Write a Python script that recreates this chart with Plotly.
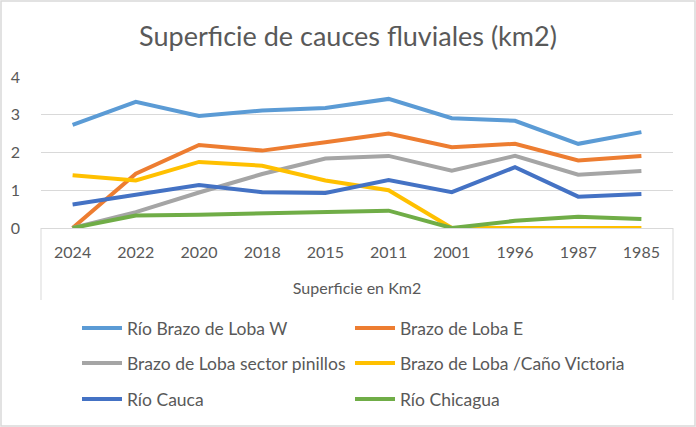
import plotly.graph_objects as go

# categorias del eje x (años)
years = ["2024", "2022", "2020", "2018", "2015", "2011", "2001", "1996", "1987", "1985"]

# superficie en km2 por cauce
brazo_loba_w = [2.73, 3.34, 2.97, 3.11, 3.18, 3.42, 2.91, 2.84, 2.23, 2.54]
brazo_loba_e = [0.00, 1.44, 2.20, 2.05, 2.27, 2.50, 2.14, 2.23, 1.79, 1.91]
sector_pinillos = [0.00, 0.42, 0.94, 1.43, 1.84, 1.91, 1.52, 1.91, 1.41, 1.51]
cano_victoria = [1.40, 1.26, 1.75, 1.65, 1.26, 1.00, 0.00, 0.00, 0.00, 0.00]
rio_cauca = [0.62, 0.87, 1.14, 0.95, 0.93, 1.27, 0.95, 1.61, 0.83, 0.90]
rio_chicagua = [0.00, 0.33, 0.35, 0.38, 0.41, 0.46, 0.00, 0.19, 0.30, 0.24]

series = [
    ("Río Brazo de Loba W", brazo_loba_w, "#5B9BD5"),
    ("Brazo de Loba E", brazo_loba_e, "#ED7D31"),
    ("Brazo de Loba sector pinillos", sector_pinillos, "#A5A5A5"),
    ("Brazo de Loba /Caño Victoria", cano_victoria, "#FFC000"),
    ("Río Cauca", rio_cauca, "#4472C4"),
    ("Río Chicagua", rio_chicagua, "#70AD47"),
]

FONT = "Lato"
GRAY = "#595959"
GRID = "#D9D9D9"

W, H = 696, 427
L, R, T, B = 41, 23, 77, 199
ph = H - T - B

# una leyenda por entrada: dos columnas, tres filas
leg_names = ["legend", "legend2", "legend3", "legend4", "legend5", "legend6"]
col_x = [77, 350]
row_y = [328, 363, 399]

fig = go.Figure()
for i, (name, vals, color) in enumerate(series):
    fig.add_trace(go.Scatter(x=years, y=vals, name=name, mode="lines",
                             line=dict(color=color, width=4),
                             legend=leg_names[i], showlegend=True))


def py(p):
    # pixel vertical -> paper
    return (H - B - p) / ph


def px(p):
    return (p - L) / (W - L - R)


legends = {}
for i, ln in enumerate(leg_names):
    legends[ln] = dict(orientation="h", xref="container", yref="container",
                       x=col_x[i % 2] / W, y=1 - row_y[i // 2] / H,
                       xanchor="left", yanchor="middle",
                       font=dict(family=FONT, size=17.5, color=GRAY),
                       bgcolor="rgba(0,0,0,0)", itemwidth=40)

fig.update_layout(
    width=W, height=H,
    showlegend=True,
    margin=dict(l=L, r=R, t=T, b=B, autoexpand=False),
    paper_bgcolor="white", plot_bgcolor="white",
    font=dict(family=FONT, color=GRAY),
    title=dict(text="Superficie de cauces fluviales (km2)", x=0.5, xanchor="center",
               y=1 - 37 / H, yref="container", yanchor="middle",
               font=dict(family=FONT, size=27, color=GRAY)),
    **legends,
    xaxis=dict(type="category", range=[-0.5, 9.5], showgrid=False,
               showline=True, linecolor=GRID, linewidth=1, ticks="",
               tickfont=dict(family=FONT, size=16, color=GRAY),
               ticklabelstandoff=10,
               title=dict(text="Superficie en Km2", standoff=22,
                          font=dict(family=FONT, size=16, color=GRAY))),
    yaxis=dict(range=[0, 4], dtick=1, showgrid=True, gridcolor=GRID, gridwidth=1,
               zeroline=False, showline=False, ticks="",
               tickfont=dict(family=FONT, size=16, color=GRAY),
               ticklabelstandoff=20),
    shapes=[
        dict(type="line", xref="paper", yref="paper", x0=0, x1=0, y0=0, y1=py(300),
             line=dict(color=GRID, width=1)),
        dict(type="line", xref="paper", yref="paper", x0=1, x1=1, y0=0, y1=py(300),
             line=dict(color=GRID, width=1)),
        dict(type="rect", xref="paper", yref="paper", x0=px(1), x1=px(W - 1),
             y0=py(H - 1), y1=py(1), line=dict(color=GRID, width=1.5), layer="below"),
    ],
)

fig.write_html("out.html", config={"displayModeBar": False},
               post_script="document.body.style.margin='0';document.body.style.overflow='hidden';")
